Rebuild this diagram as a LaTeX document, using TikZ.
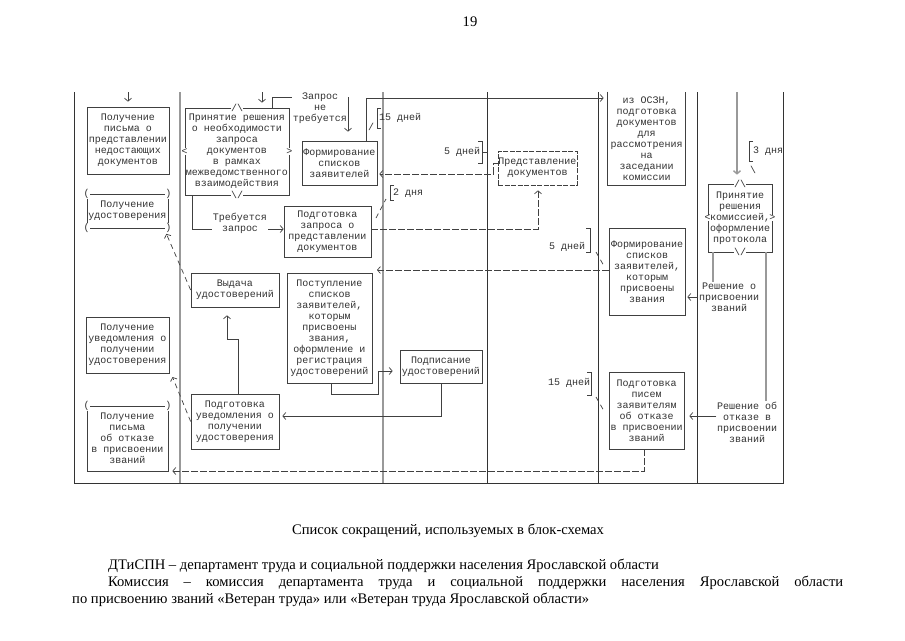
\documentclass[tikz,border=0pt]{standalone}
\usepackage{fontspec}
\setmainfont{Liberation Serif}
\newfontfamily\monofont{Liberation Mono}
\usetikzlibrary{arrows.meta}

\begin{document}
\begin{tikzpicture}[x=1pt,y=-1pt,
  box/.style={draw=black!75, line width=0.7pt, inner sep=0pt, align=center,
    font=\monofont\fontsize{10}{11}\selectfont, text=black!80},
  dbox/.style={box, dash pattern=on 5pt off 1.5pt},
  txt/.style={inner sep=0.5pt, align=center,
    font=\monofont\fontsize{10}{11}\selectfont, text=black!80},
  deco/.style={txt, fill=white, inner sep=0.2pt},
  flow/.style={draw=black!75, line width=0.7pt},
  gflow/.style={draw=black!40, line width=1.4pt},
  dflow/.style={flow, dash pattern=on 7pt off 2pt},
  slash/.style={flow, dash pattern=on 5pt off 4pt},
  lanegray/.style={draw=black!40, line width=1.6pt},
  lanedark/.style={draw=black!80, line width=0.7pt},
  serif/.style={inner sep=0pt, font=\fontsize{14.6}{17}\selectfont},
  >={Straight Barb[length=3pt,width=7pt]}]

\fill[white] (0,0) rectangle (905,640);
\useasboundingbox (0,0) rectangle (905,640);

\node[serif] (pagenum) at (470,22) {19};

% lanes
\draw[lanedark] (74,92) -- (74,483) -- (783,483) -- (783,92);
\foreach \x in {487,598,697}
  \draw[lanedark] (\x,92) -- (\x,483);
\foreach \x in {180,383}
  \draw[lanegray] (\x,92) -- (\x,483);
\draw[gflow] (737,92) -- (737,166);

% first lane
\node[box, minimum width=82pt, minimum height=67pt] (b1) at (128,140.5) {Получение\\письма о\\представлении\\недостающих\\документов};
\node[box, minimum width=81pt, minimum height=34pt] (b2) at (127.5,211) {Получение\\удостоверения};
\node[box, minimum width=83pt, minimum height=56pt] (b3) at (127.5,345) {Получение\\уведомления о\\получении\\удостоверения};
\node[box, minimum width=81pt, minimum height=65pt] (b4) at (127.5,438.5) {Получение\\письма\\об отказе\\в присвоении\\званий};

% second lane
\node[box, minimum width=104pt, minimum height=87pt] (c1) at (237,151.5) {Принятие решения\\о необходимости\\запроса\\документов\\в рамках\\межведомственного\\взаимодействия};
\node[box, minimum width=75pt, minimum height=44pt] (c2) at (339.5,163) {Формирование\\списков\\заявителей};
\node[box, minimum width=87pt, minimum height=51pt] (c3) at (327.5,231.5) {Подготовка\\запроса о\\представлении\\документов};
\node[box, minimum width=88pt, minimum height=34pt] (c4) at (235,290) {Выдача\\удостоверений};
\node[box, minimum width=85pt, minimum height=110pt] (c5) at (329.5,328) {Поступление\\списков\\заявителей,\\которым\\присвоены\\звания,\\оформление и\\регистрация\\удостоверений};
\node[box, minimum width=88pt, minimum height=55pt] (c6) at (235,421.5) {Подготовка\\уведомления о\\получении\\удостоверения};

% third and fourth lane
\node[box, minimum width=82pt, minimum height=33pt] (e1) at (441,366.5) {Подписание\\удостоверений};
\node[dbox, minimum width=79pt, minimum height=34pt] (d1) at (537.5,168) {Представление\\документов};

% fifth lane
\node[box, draw=none, minimum width=77pt, minimum height=93pt] (f1) at (646.5,138.5) {из ОСЗН,\\подготовка\\документов\\для\\рассмотрения\\на\\заседании\\комиссии};
\draw[flow] (f1.north west) |- (f1.south east) -- (f1.north east);
\node[box, minimum width=76pt, minimum height=87pt] (f2) at (647,271.5) {Формирование\\списков\\заявителей,\\которым\\присвоены\\звания};
\node[box, minimum width=75pt, minimum height=77pt] (f3) at (646.5,410.5) {Подготовка\\писем\\заявителям\\об отказе\\в присвоении\\званий};

% sixth lane
\node[box, minimum width=64pt, minimum height=68pt] (g1) at (740,218) {Принятие\\решения\\комиссией,\\оформление\\протокола};
\node[txt] (rp) at (729,297) {Решение о\\присвоении\\званий};
\node[txt] (ro) at (747,422) {Решение об\\отказе в\\присвоении\\званий};

% connectors
\draw[flow,->,shorten >=5pt] (128,92) -- (128,0 |- b1.north);
\draw[flow,->,shorten >=5pt] (262,92) -- (262,0 |- c1.north);
\draw[gflow,->,shorten >=9pt] (737,166) -- (737,0 |- g1.north);
\draw[flow,->,shorten >=9pt] (272,0 |- c1.north) |- (348,97) -- (348,0 |- c2.north);
\draw[flow,->] (192,0 |- c1.south) |- (c3.west |- 0,229);
\draw[flow,->,shorten >=4pt] (366,0 |- c2.north) |- (f1.west |- 0,98);
\draw[dflow,->,shorten >=2pt] (d1.west |- 0,163) -- (493,163) -- (493,174) -- (c2.east |- 0,174);
\draw[dflow,->,shorten >=5pt] (c3.east |- 0,229) -| (538,0 |- d1.south);
\draw[dflow,->] (f2.west |- 0,270) -- (377,270);
\draw[flow,->,shorten >=7pt] (331,0 |- c5.south) -- (331,394) -| (378,371) -- (e1.west |- 0,371);
\draw[flow,->,shorten >=3pt] (441,0 |- e1.south) |- (c6.east |- 0,416);
\draw[flow,->,shorten >=8pt] (238,0 |- c6.north) -- (238,339) -| (227,0 |- c4.south);
\draw[slash,->,shorten >=6pt] (c4.west) -- (164,0 |- b2.south);
\draw[slash,->,shorten >=4pt] (c6.west) -- (171,0 |- b3.south);
\draw[dflow,->,shorten >=4pt] (644,0 |- f3.south) |- (b4.east |- 0,471);
\draw[gflow] (713,0 |- g1.south) -- (713,0 |- rp.north);
\draw[flow,->,shorten >=2pt] (rp.west) -- (f2.east |- rp.west);
\draw[gflow] (766,0 |- g1.south) -- (766,0 |- ro.north);
\draw[flow,->,shorten >=5pt] (ro.west |- 0,416) -- (f3.east |- 0,416);

% labels on connectors
\node[txt, fill=white] (noreq) at (320,108) {Запрос\\не\\требуется};
\node[txt, fill=white] (req) at (240,223) {Требуется\\запрос};

% decision and bracket marks
\node[deco] at (c1.north) {/\textbackslash};
\node[deco] at (c1.south) {\textbackslash/};
\node[deco] at (c1.west) {<};
\node[deco] at (c1.east) {>};
\node[deco] at (g1.north) {/\textbackslash};
\node[deco] at (g1.south) {\textbackslash/};
\node[deco] at (g1.west) {<};
\node[deco] at (g1.east) {>};
\node[deco] at (b2.north west) {(};
\node[deco] at (b2.north east) {)};
\node[deco] at (b2.south west) {(};
\node[deco] at (b2.south east) {)};
\node[deco] at (b4.north west) {(};
\node[deco] at (b4.north east) {)};

% terms
\draw[flow] (381,108) -- (377,108) -- (377,128) -- (381,128);
\node[txt] (days15a) at (400,118) {15 дней};
\node[txt] at (371,127) {/};
\draw[flow] (478,141) -- (482,141) -- (482,163) -- (478,163);
\draw[flow] (482,152) -- (488,152);
\node[txt] (days5a) at (462,152) {5 дней};
\draw[flow] (394,185) -- (390,185) -- (390,200) -- (394,200);
\node[txt] (days2) at (408,193) {2 дня};
\draw[slash] (376,218) -- (386,199);
\draw[flow] (753,141) -- (749,141) -- (749,161) -- (753,161);
\node[txt] (days3) at (768,151) {3 дня};
\node[txt] at (753,170) {\textbackslash};
\draw[flow] (586,228) -- (590,228) -- (590,252) -- (586,252);
\node[txt] (days5b) at (567,247) {5 дней};
\draw[slash] (596,252) -- (604,266);
\draw[flow] (587,372) -- (591,372) -- (591,395) -- (587,395);
\node[txt] (days15b) at (569,383) {15 дней};
\draw[slash] (596,397) -- (604,411);

% list of abbreviations
\node[serif] (title) at (448,531) {Список сокращений, используемых в блок-схемах};
\node[serif, anchor=west] (abbr1) at (108,566) {ДТиСПН – департамент труда и социальной поддержки населения Ярославской области};
\node[serif, anchor=west] (abbr2) at (108,583) {\makebox[735pt][s]{Комиссия – комиссия департамента труда и социальной поддержки населения Ярославской области}};
\node[serif, anchor=west] (abbr3) at (72,600) {по присвоению званий «Ветеран труда» или «Ветеран труда Ярославской области»};

\end{tikzpicture}
\end{document}
